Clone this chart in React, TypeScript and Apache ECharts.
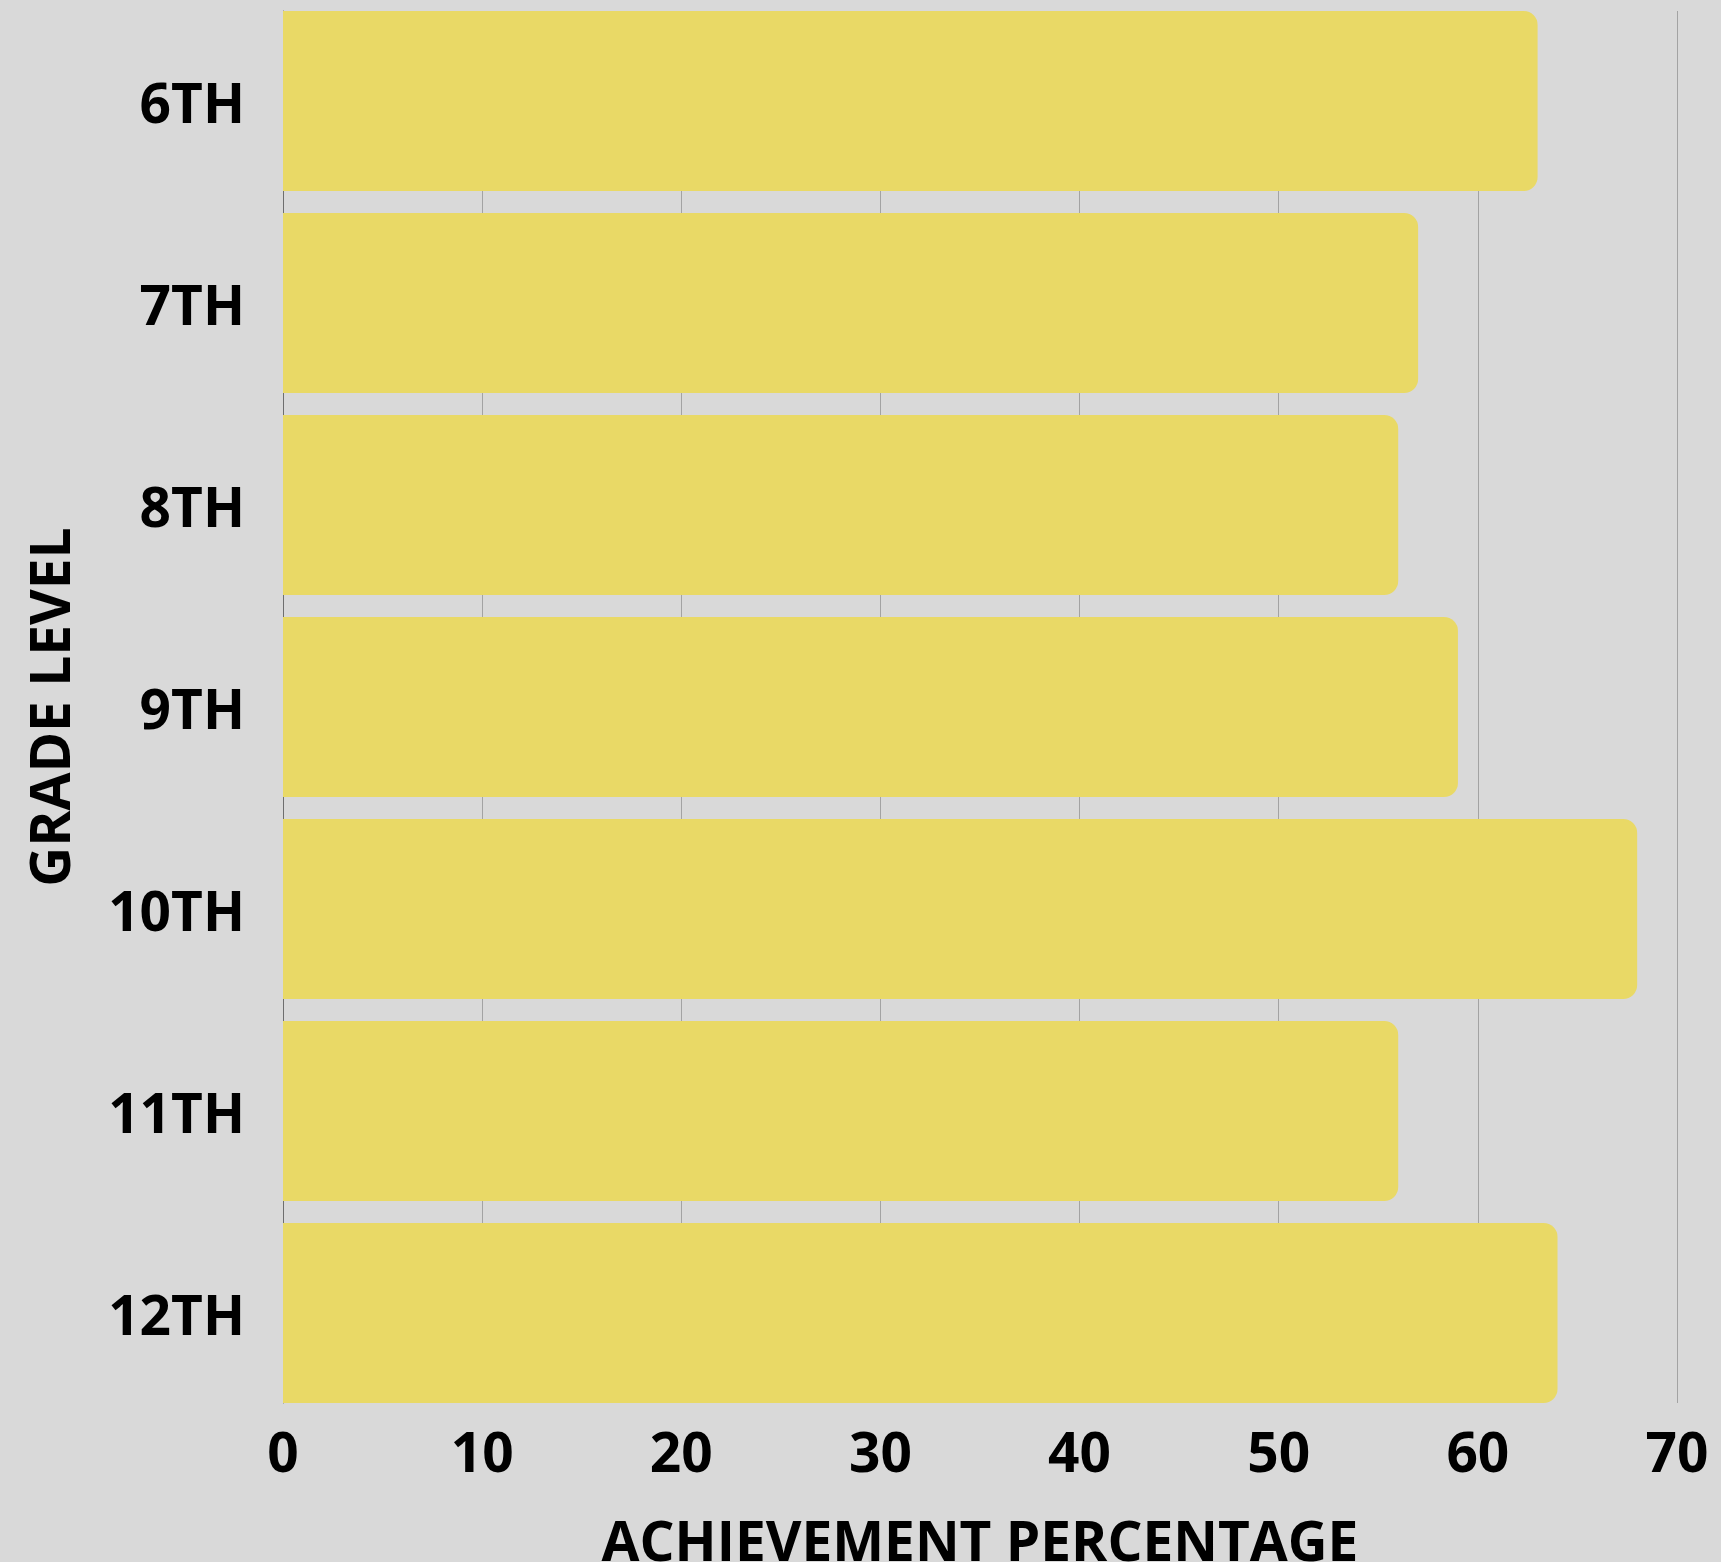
import React, { useEffect, useRef } from "react";
import * as echarts from "echarts";

const categories = ["6TH", "7TH", "8TH", "9TH", "10TH", "11TH", "12TH"];
const values = [63, 57, 56, 59, 68, 56, 64];
const xMin = 0;
const xMax = 70;
const xInterval = 10;

const FONT = "'Open Sans', sans-serif";

export default function App() {
  const ref = useRef<HTMLDivElement>(null);
  useEffect(() => {
    if (!ref.current) return;
    const chart = echarts.init(ref.current, null, { renderer: "svg" });
    const labelStyle = {
      fontFamily: FONT,
      fontWeight: "bold" as const,
      fontSize: 55,
      color: "#000",
    };
    chart.setOption({
      animation: false,
      backgroundColor: "#D9D9D9",
      grid: [
        { left: 283, right: 44, top: 0, bottom: 148, outerBoundsMode: "none", containLabel: false },
        { left: 283, right: 44, top: 11, bottom: 159, outerBoundsMode: "none", containLabel: false },
      ],
      xAxis: [
        {
          type: "value",
          gridIndex: 0,
          min: xMin,
          max: xMax,
          interval: xInterval,
          splitLine: { show: false },
          axisLine: { show: false },
          axisTick: { show: false },
          axisLabel: { ...labelStyle, margin: 9 },
          name: "ACHIEVEMENT PERCENTAGE",
          nameLocation: "middle",
          nameGap: 98,
          nameTextStyle: { ...labelStyle },
        },
        {
          type: "value",
          gridIndex: 1,
          min: xMin,
          max: xMax,
          interval: xInterval,
          splitLine: { show: true, lineStyle: { color: "#A3A3A3", width: 1 } },
          axisLine: { show: false },
          axisTick: { show: false },
          axisLabel: { show: false },
        },
      ],
      yAxis: [
        {
          type: "category",
          gridIndex: 0,
          data: categories,
          inverse: true,
          axisLine: { show: false },
          axisTick: { show: false },
          axisLabel: { ...labelStyle, margin: 38 },
          name: "GRADE LEVEL",
          nameLocation: "middle",
          nameGap: 207,
          nameTextStyle: { ...labelStyle },
        },
        {
          type: "value",
          gridIndex: 1,
          axisLine: { show: true, lineStyle: { color: "#6E6E6E", width: 1 } },
          axisTick: { show: false },
          axisLabel: { show: false },
          splitLine: { show: false },
        },
      ],
      series: [
        {
          type: "bar",
          xAxisIndex: 0,
          yAxisIndex: 0,
          data: values,
          barWidth: 180,
          itemStyle: { color: "#E9D966", borderRadius: [0, 14, 14, 0] },
        },
      ],
    });
    return () => chart.dispose();
  }, []);
  return (
    <div
      ref={ref}
      style={{ position: "fixed", left: 0, top: 0, width: 1721, height: 1562 }}
    />
  );
}
